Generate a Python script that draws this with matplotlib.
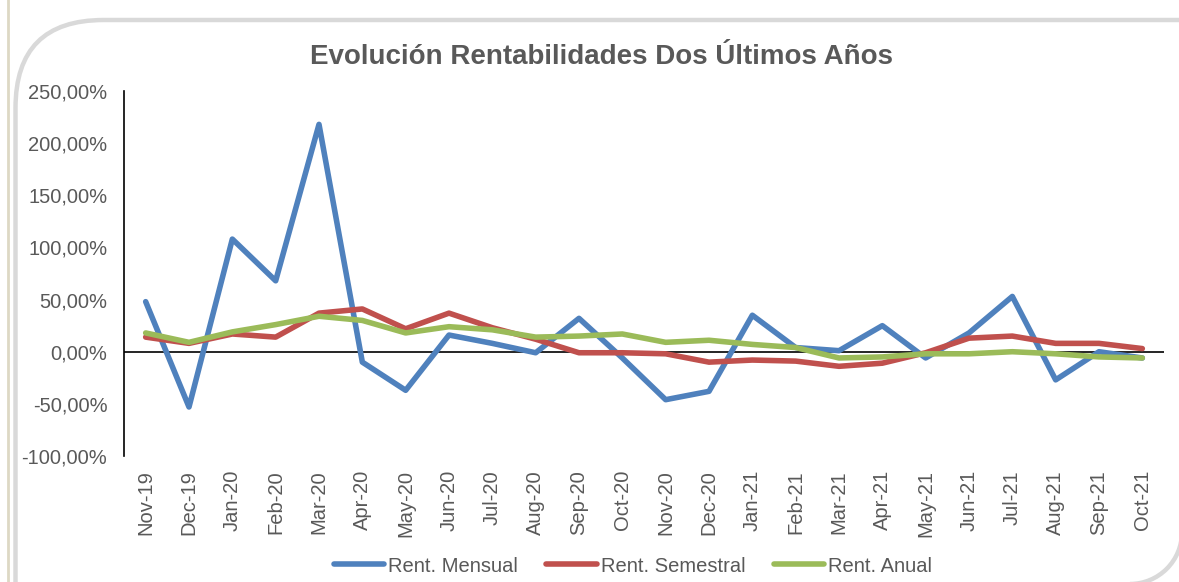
import numpy as np
import matplotlib
matplotlib.use("Agg")
import matplotlib.pyplot as plt
from matplotlib.patches import FancyBboxPatch, Arc
from matplotlib.lines import Line2D
from matplotlib.transforms import IdentityTransform

plt.rcParams['font.family'] = ['Liberation Sans', 'DejaVu Sans']

# data (in %)
meses = ["Nov-19", "Dec-19", "Jan-20", "Feb-20", "Mar-20", "Apr-20", "May-20", "Jun-20",
         "Jul-20", "Aug-20", "Sep-20", "Oct-20", "Nov-20", "Dec-20", "Jan-21", "Feb-21",
         "Mar-21", "Apr-21", "May-21", "Jun-21", "Jul-21", "Aug-21", "Sep-21", "Oct-21"]
rent_mensual = [48, -53, 108, 68, 218, -10, -37, 16, 8, -1, 32, -6, -46, -38, 35, 4,
                1, 25, -6, 18, 53, -27, 0, -6]
rent_semestral = [14, 8, 17, 14, 37, 41, 22, 37, 23, 12, -1, -1, -2, -10, -8, -9,
                  -14, -11, -1, 13, 15, 8, 8, 3]
rent_anual = [18, 9, 19, 26, 34, 30, 18, 24, 21, 14, 15, 17, 9, 11, 7, 4,
              -6, -5, -2, -2, 0, -2, -5, -6]
yticks = [-100, -50, 0, 50, 100, 150, 200, 250]

gris = "#595959"
W, H = 1179, 582

fig = plt.figure(figsize=(W / 100, H / 100), dpi=100)
fig.patch.set_facecolor("white")

# marco redondeado (en px); sigue fuera de la imagen por la derecha y por abajo
px = IdentityTransform()
marco = FancyBboxPatch((15.5, H - 700), 1500, 700 - 20, boxstyle="round,pad=0,rounding_size=88",
                       transform=px, fill=False, edgecolor="#d9d9d9", linewidth=3.2)
fig.add_artist(marco)
esquina = Arc((1130, H - 532), 104, 104, theta1=270, theta2=360, transform=px,
              edgecolor="#d9d9d9", linewidth=3.2)
fig.add_artist(esquina)
fig.add_artist(Line2D([7.5, 7.5], [0, H], transform=px, color="#ddd8c4", linewidth=2))

ax = fig.add_axes([124 / W, (H - 456) / H, 1040 / W, 365 / H])
ax.set_facecolor("none")
x = np.arange(len(meses))

ax.plot(x, rent_mensual, color="#4F81BD", lw=4, solid_capstyle="round", label="Rent. Mensual")
ax.plot(x, rent_semestral, color="#C0504D", lw=4, solid_capstyle="round", label="Rent. Semestral")
ax.plot(x, rent_anual, color="#9BBB59", lw=4, solid_capstyle="round", label="Rent. Anual")
ax.axhline(0, color="black", lw=1.2, zorder=1)

ax.set_xlim(-0.5, len(meses) - 0.5)
ax.set_ylim(-100, 250)
ax.set_yticks(yticks)
ax.set_yticklabels([f"{v:.2f}%".replace(".", ",") for v in yticks])
ax.set_xticks(x)
ax.set_xticklabels(meses, rotation=90)
ax.tick_params(axis="y", length=0, pad=12, labelsize=14.5, labelcolor=gris)
ax.tick_params(axis="x", length=0, pad=10, labelsize=14.5, labelcolor=gris)

for s in ["top", "right", "bottom"]:
    ax.spines[s].set_visible(False)
ax.spines["left"].set_color("black")
ax.spines["left"].set_linewidth(1.2)

fig.text(602 / W, 1 - 57 / H, "Evolución Rentabilidades Dos Últimos Años",
         ha="center", va="center", fontsize=20, fontweight="bold", color=gris)

leg = fig.legend(loc="center", bbox_to_anchor=(633 / W, 1 - 566 / H), ncol=3,
                 frameon=False, fontsize=14.5, handlelength=2.5, handletextpad=0.2,
                 columnspacing=1.4, borderaxespad=0)
for t in leg.get_texts():
    t.set_color(gris)

fig.savefig("out.png", dpi=100)
